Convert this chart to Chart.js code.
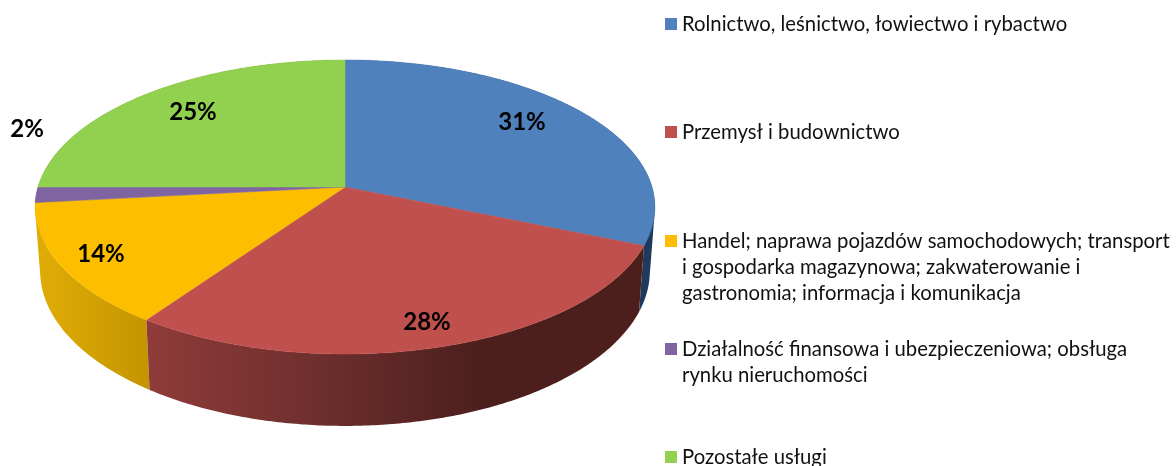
<!DOCTYPE html>
<html lang="pl">
<head>
<meta charset="utf-8">
<title>Wykres</title>
<script src="https://cdn.jsdelivr.net/npm/chart.js@4"></script>
<style>
  html, body { margin: 0; padding: 0; background: #fff; overflow: hidden; }
  canvas { display: block; }
</style>
</head>
<body>
<canvas id="pieChart" width="1176" height="466"></canvas>
<script>
// dane wykresu
const categories = [
  "Rolnictwo, leśnictwo, łowiectwo i rybactwo",
  "Przemysł i budownictwo",
  "Handel; naprawa pojazdów samochodowych; transport i gospodarka magazynowa; zakwaterowanie i gastronomia; informacja i komunikacja",
  "Działalność finansowa i ubezpieczeniowa; obsługa rynku nieruchomości",
  "Pozostałe usługi",
];
const shares = [31.3, 28.45, 13.55, 1.7, 25];
const legendLines = [
  ["Rolnictwo, leśnictwo, łowiectwo i rybactwo"],
  ["Przemysł i budownictwo"],
  ["Handel; naprawa pojazdów samochodowych; transport", "i gospodarka magazynowa; zakwaterowanie i", "gastronomia; informacja i komunikacja"],
  ["Działalność finansowa i ubezpieczeniowa; obsługa", "rynku nieruchomości"],
  ["Pozostałe usługi"],
];
const colors = ["#4f81bd", "#c0504d", "#fdbe00", "#8064a2", "#92d050"];

// ustawienia wyglądu
const wallStops = [
  [[0, "#1f3a5c"], [1, "#1f3a5c"]],
  [[0, "#8f3b39"], [0.55, "#6b2e2c"], [1, "#4c1f1d"]],
  [[0, "#dfac06"], [1, "#c49500"]],
  [[0, "#5a4672"], [1, "#5a4672"]],
  [[0, "#668f38"], [1, "#668f38"]],
];
const wallRange = [[560, 660], [149, 480], [40, 149], [30, 60], [30, 345]];
const labelAnchors = [[522, 122], [427, 322], [101, 254], [27, 129], [193, 112]];
const legendY = [31, 139, 248, 356, 464];
const top3d = { cx: 345, cy: 187, rx: 307, ry: 144.3, k: 0.136 };
const bottom3d = { cx: 345, cy: 250, rx: 302, ry: 152, k: 0.136 };

// rzut perspektywiczny punktu na okręgu
function project(face, angle, r) {
  const u = Math.cos(angle) * r;
  const v = Math.sin(angle) * r;
  const w = 1 - face.k * v;
  return [face.cx + (face.rx * u) / w, face.cy + (face.ry * v) / w];
}

function arcPoints(face, from, to) {
  const steps = Math.max(2, Math.ceil(Math.abs(to - from) / 0.01));
  const pts = [];
  for (let i = 0; i <= steps; i++) {
    pts.push(project(face, from + ((to - from) * i) / steps, 1));
  }
  return pts;
}

function addPolygon(ctx, pts) {
  pts.forEach(function (p, i) {
    if (i === 0) ctx.moveTo(p[0], p[1]);
    else ctx.lineTo(p[0], p[1]);
  });
  ctx.closePath();
}

function signedArea(pts) {
  let sum = 0;
  pts.forEach(function (p, i) {
    const q = pts[(i + 1) % pts.length];
    sum += p[0] * q[1] - q[0] * p[1];
  });
  return sum;
}

const pie3dPlugin = {
  id: "pie3d",
  // zamiast płaskich wycinków rysujemy bryłę z kątów wyliczonych przez Chart.js
  beforeDatasetsDraw(chart) {
    const ctx = chart.ctx;
    const arcs = chart.getDatasetMeta(0).data;
    const order = arcs.map(function (a, i) { return i; }).sort(function (a, b) {
      const midA = (arcs[a].startAngle + arcs[a].endAngle) / 2;
      const midB = (arcs[b].startAngle + arcs[b].endAngle) / 2;
      return Math.sin(midA) - Math.sin(midB);
    });

    ctx.save();
    order.forEach(function (i) {
      const arc = arcs[i];
      const upper = arcPoints(top3d, arc.startAngle, arc.endAngle);
      const lower = arcPoints(bottom3d, arc.startAngle, arc.endAngle);
      const grad = ctx.createLinearGradient(wallRange[i][0], 0, wallRange[i][1], 0);
      wallStops[i].forEach(function (s) { grad.addColorStop(s[0], s[1]); });
      // paski w jednej ścieżce o tym samym kierunku, żeby nie było szwów
      ctx.beginPath();
      for (let s = 0; s < upper.length - 1; s++) {
        const quad = [upper[s], upper[s + 1], lower[s + 1], lower[s]];
        if (signedArea(quad) < 0) quad.reverse();
        addPolygon(ctx, quad);
      }
      ctx.fillStyle = grad;
      ctx.fill();
    });

    ctx.lineWidth = 0.5;
    arcs.forEach(function (arc, i) {
      const pts = [[top3d.cx, top3d.cy]].concat(arcPoints(top3d, arc.startAngle, arc.endAngle));
      ctx.beginPath();
      addPolygon(ctx, pts);
      ctx.fillStyle = colors[i];
      ctx.strokeStyle = colors[i];
      ctx.fill();
      ctx.stroke();
    });
    ctx.restore();
    return false;
  },
  afterDraw(chart) {
    const ctx = chart.ctx;
    ctx.save();
    ctx.textBaseline = "alphabetic";

    // etykiety procentowe
    ctx.font = "bold 24px Lato";
    ctx.fillStyle = "#000";
    ctx.textAlign = "center";
    shares.forEach(function (v, i) {
      ctx.fillText(Math.round(v) + "%", labelAnchors[i][0], labelAnchors[i][1] + 8);
    });

    // legenda
    ctx.font = "20.3px Lato";
    ctx.textAlign = "left";
    legendLines.forEach(function (lines, i) {
      ctx.fillStyle = colors[i];
      ctx.fillRect(665, legendY[i] - 13, 12, 12);
      ctx.fillStyle = "#111";
      lines.forEach(function (line, j) {
        ctx.fillText(line, 682, legendY[i] + j * 26);
      });
    });
    ctx.restore();
  },
};

new Chart(document.getElementById("pieChart"), {
  type: "pie",
  data: {
    labels: categories,
    datasets: [{ data: shares, backgroundColor: colors, borderWidth: 0 }],
  },
  options: {
    responsive: false,
    animation: false,
    events: [],
    plugins: {
      legend: { display: false },
      tooltip: { enabled: false },
    },
  },
  plugins: [pie3dPlugin],
});
</script>
</body>
</html>
